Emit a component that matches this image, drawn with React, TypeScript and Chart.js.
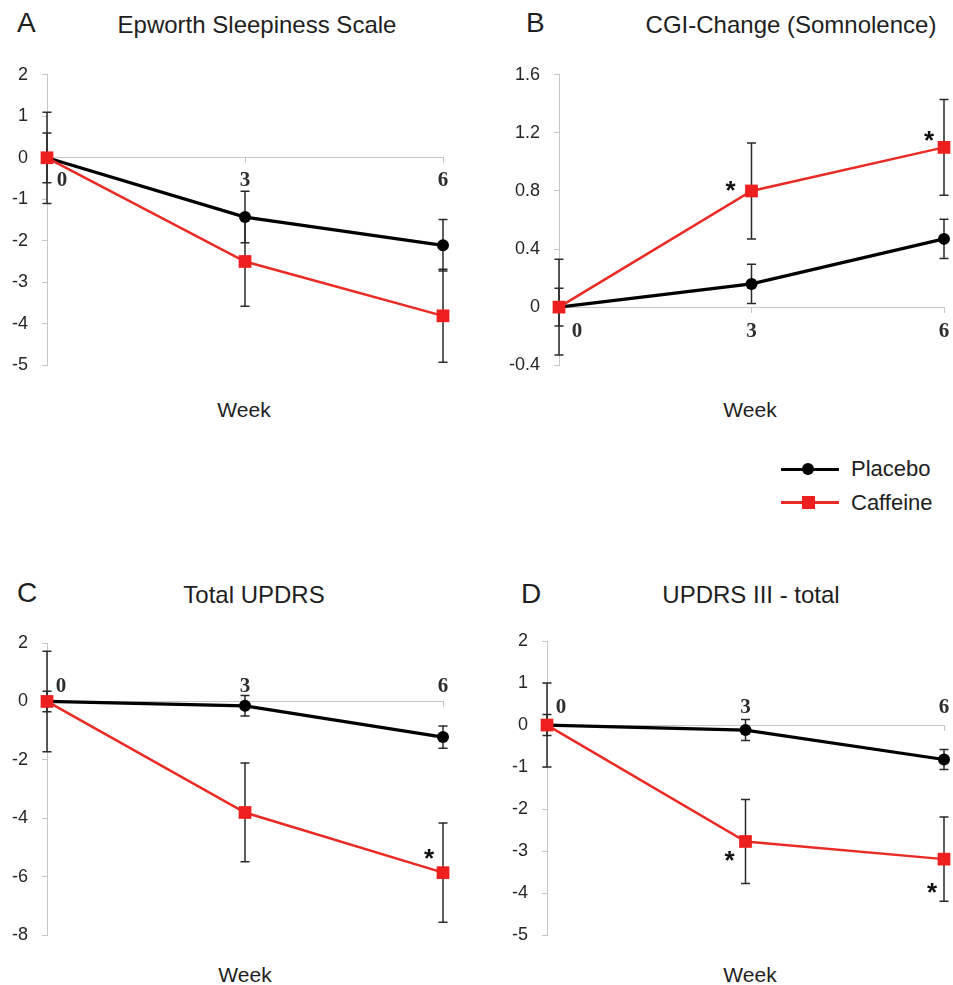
import React, { useEffect, useRef } from 'react';
import { Chart, registerables } from 'chart.js';

Chart.register(...registerables);

// ---------------- DATA ----------------
const weeks = [0, 3, 6];
const seriesNames = ['Placebo', 'Caffeine'];

// A – Epworth Sleepiness Scale
const epworthPlacebo = [0, -1.43, -2.11];
const epworthPlaceboSem = [0.6, 0.62, 0.62];
const epworthCaffeine = [0, -2.5, -3.81];
const epworthCaffeineSem = [1.1, 1.08, 1.12];
const epworthTicks = [2, 1, 0, -1, -2, -3, -4, -5];
const epworthStars: number[] = [];

// B – CGI-Change (Somnolence)
const cgiPlacebo = [0, 0.16, 0.47];
const cgiPlaceboSem = [0.13, 0.135, 0.135];
const cgiCaffeine = [0, 0.8, 1.1];
const cgiCaffeineSem = [0.33, 0.33, 0.33];
const cgiTicks = [1.6, 1.2, 0.8, 0.4, 0, -0.4];
const cgiStars = [1, 2];

// C – Total UPDRS
const updrsPlacebo = [0, -0.15, -1.22];
const updrsPlaceboSem = [0.35, 0.35, 0.38];
const updrsCaffeine = [0, -3.8, -5.86];
const updrsCaffeineSem = [1.72, 1.69, 1.7];
const updrsTicks = [2, 0, -2, -4, -6, -8];
const updrsStars = [2];

// D – UPDRS III - total
const updrs3Placebo = [0, -0.12, -0.82];
const updrs3PlaceboSem = [0.25, 0.25, 0.24];
const updrs3Caffeine = [0, -2.77, -3.19];
const updrs3CaffeineSem = [1.0, 1.0, 1.0];
const updrs3Ticks = [2, 1, 0, -1, -2, -3, -4, -5];
const updrs3Stars = [1, 2];

// ---------------- STYLE / LAYOUT ----------------
const SANS = '"Liberation Sans", Arial, Helvetica, sans-serif';
const SERIF = '"Liberation Serif", "Times New Roman", serif';
const AXIS = '#c6c6c6';
const TEXT = '#262626';
const RED = '#ea2a24';
const RED_FILL = '#ee1f1f';

type Panel = {
  letter: string;
  title: string;
  placebo: number[];
  placeboSem: number[];
  caffeine: number[];
  caffeineSem: number[];
  ticks: number[];
  stars: number[];
  box: { left: number; top: number; width: number; height: number };
  yWidth: number;
  pad: { top: number; right: number; bottom: number };
  weekDy: number;
  zeroDx: number;
  starOffsets: Record<number, [number, number]>;
  letterPos: [number, number];
  titleCenter: [number, number];
  weekCenter: [number, number];
};

const panels: Panel[] = [
  {
    letter: 'A', title: 'Epworth Sleepiness Scale',
    placebo: epworthPlacebo, placeboSem: epworthPlaceboSem,
    caffeine: epworthCaffeine, caffeineSem: epworthCaffeineSem,
    ticks: epworthTicks, stars: epworthStars,
    box: { left: 0, top: 50, width: 470, height: 340 }, yWidth: 47,
    pad: { top: 18, right: 27, bottom: 20 }, weekDy: 23, zeroDx: 15,
    starOffsets: {},
    letterPos: [17, 33], titleCenter: [257, 33], weekCenter: [244, 417],
  },
  {
    letter: 'B', title: 'CGI-Change (Somnolence)',
    placebo: cgiPlacebo, placeboSem: cgiPlaceboSem,
    caffeine: cgiCaffeine, caffeineSem: cgiCaffeineSem,
    ticks: cgiTicks, stars: cgiStars,
    box: { left: 476, top: 50, width: 477, height: 340 }, yWidth: 83,
    pad: { top: 18, right: 7, bottom: 22 }, weekDy: 24, zeroDx: 18,
    starOffsets: { 1: [-21, -7], 2: [-15, -13] },
    letterPos: [526, 33], titleCenter: [791, 33], weekCenter: [750, 417],
  },
  {
    letter: 'C', title: 'Total UPDRS',
    placebo: updrsPlacebo, placeboSem: updrsPlaceboSem,
    caffeine: updrsCaffeine, caffeineSem: updrsCaffeineSem,
    ticks: updrsTicks, stars: updrsStars,
    box: { left: 0, top: 610, width: 470, height: 350 }, yWidth: 47,
    pad: { top: 33, right: 27, bottom: 15 }, weekDy: -15, zeroDx: 14,
    starOffsets: { 2: [-14, -20] },
    letterPos: [17, 603], titleCenter: [254, 603], weekCenter: [245, 982],
  },
  {
    letter: 'D', title: 'UPDRS III - total',
    placebo: updrs3Placebo, placeboSem: updrs3PlaceboSem,
    caffeine: updrs3Caffeine, caffeineSem: updrs3CaffeineSem,
    ticks: updrs3Ticks, stars: updrs3Stars,
    box: { left: 476, top: 610, width: 477, height: 350 }, yWidth: 71,
    pad: { top: 31, right: 9, bottom: 17 }, weekDy: -17, zeroDx: 14,
    starOffsets: { 1: [-16, 13], 2: [-12, 27] },
    letterPos: [521, 604], titleCenter: [751, 603], weekCenter: [750, 982],
  },
];

// ---------------- PLUGINS ----------------
const errorBarPlugin = {
  id: 'errorBars',
  beforeDatasetsDraw(chart: any) {
    const { ctx } = chart;
    const yScale = chart.scales.y;
    chart.data.datasets.forEach((ds: any, di: number) => {
      const meta = chart.getDatasetMeta(di);
      const errs: number[] = ds.errors || [];
      ctx.save();
      ctx.strokeStyle = '#2a2a2a';
      ctx.lineWidth = 1.5;
      meta.data.forEach((el: any, i: number) => {
        const v = ds.data[i].y;
        const e = errs[i] || 0;
        const top = yScale.getPixelForValue(v + e);
        const bot = yScale.getPixelForValue(v - e);
        const x = el.x;
        const cap = 4.5;
        ctx.beginPath();
        ctx.moveTo(x, top); ctx.lineTo(x, bot);
        ctx.moveTo(x - cap, top); ctx.lineTo(x + cap, top);
        ctx.moveTo(x - cap, bot); ctx.lineTo(x + cap, bot);
        ctx.stroke();
      });
      ctx.restore();
    });
  },
};

const weekTickPlugin = {
  id: 'weekTicks',
  afterDraw(chart: any, _args: any, opts: any) {
    const { ctx } = chart;
    const xs = chart.scales.x;
    const ys = chart.scales.y;
    const base = ys.getPixelForValue(0);
    ctx.save();
    ctx.font = `bold 21px ${SERIF}`;
    ctx.fillStyle = '#2e2e2e';
    ctx.textAlign = 'center';
    ctx.textBaseline = 'middle';
    weeks.forEach((w) => {
      ctx.fillText(String(w), xs.getPixelForValue(w) + (w === 0 ? opts.zeroDx : 0), base + opts.dy);
    });
    ctx.restore();
  },
};

const starPlugin = {
  id: 'stars',
  afterDatasetsDraw(chart: any, _args: any, opts: any) {
    const { ctx } = chart;
    const meta = chart.getDatasetMeta(opts.datasetIndex);
    const F = 26;
    ctx.save();
    ctx.font = `bold ${F}px ${SANS}`;
    ctx.fillStyle = '#111';
    ctx.textAlign = 'center';
    ctx.textBaseline = 'alphabetic';
    (opts.indices as number[]).forEach((idx) => {
      const el = meta.data[idx];
      const off = opts.offsets[idx] || [0, -15];
      ctx.fillText('*', el.x + off[0], el.y + off[1] + 0.57 * F);
    });
    ctx.restore();
  },
};

// ---------------- COMPONENTS ----------------
function PanelChart({ p }: { p: Panel }) {
  const ref = useRef<HTMLCanvasElement>(null);
  useEffect(() => {
    const canvas = ref.current;
    if (!canvas) return;
    const yTicks = p.ticks.slice().sort((a, b) => a - b);
    const chart = new Chart(canvas, {
      type: 'line',
      data: {
        datasets: [
          {
            label: seriesNames[0],
            data: weeks.map((w, i) => ({ x: w, y: p.placebo[i] })),
            errors: p.placeboSem,
            borderColor: '#000',
            borderWidth: 3.2,
            pointStyle: 'circle',
            pointRadius: 6,
            pointBackgroundColor: '#000',
            pointBorderColor: '#000',
            pointBorderWidth: 0,
            tension: 0,
            clip: false,
            order: 1,
          } as any,
          {
            label: seriesNames[1],
            data: weeks.map((w, i) => ({ x: w, y: p.caffeine[i] })),
            errors: p.caffeineSem,
            borderColor: RED,
            borderWidth: 2.5,
            pointStyle: 'rect',
            pointRadius: 9,
            pointBackgroundColor: RED_FILL,
            pointBorderColor: RED_FILL,
            pointBorderWidth: 0,
            tension: 0,
            clip: false,
            order: 0,
          } as any,
        ],
      },
      options: {
        animation: false,
        responsive: false,
        maintainAspectRatio: false,
        devicePixelRatio: 1,
        events: [],
        layout: { padding: { left: 0, top: p.pad.top, right: p.pad.right, bottom: p.pad.bottom } },
        plugins: {
          legend: { display: false },
          tooltip: { enabled: false },
          title: { display: false },
          weekTicks: { dy: p.weekDy, zeroDx: p.zeroDx },
          stars: { datasetIndex: 1, indices: p.stars, offsets: p.starOffsets },
        } as any,
        scales: {
          x: {
            type: 'linear',
            min: weeks[0],
            max: weeks[weeks.length - 1],
            position: { y: 0 } as any,
            afterBuildTicks: (s: any) => { s.ticks = weeks.map((v) => ({ value: v })); },
            ticks: { display: false },
            grid: { display: true, drawOnChartArea: false, drawTicks: true, tickLength: 5, color: AXIS, lineWidth: 1 },
            border: { display: true, color: AXIS, width: 1 },
          },
          y: {
            type: 'linear',
            position: 'left',
            min: yTicks[0],
            max: yTicks[yTicks.length - 1],
            afterBuildTicks: (s: any) => { s.ticks = yTicks.map((v) => ({ value: v })); },
            afterFit: (s: any) => { s.width = p.yWidth; },
            ticks: {
              callback: (v: any) => String(v),
              font: { family: SANS, size: 18 },
              color: TEXT,
              padding: 14,
            },
            grid: { display: true, drawOnChartArea: false, drawTicks: true, tickLength: 5, color: AXIS, lineWidth: 1 },
            border: { display: true, color: AXIS, width: 1 },
          },
        } as any,
      },
      plugins: [errorBarPlugin, weekTickPlugin, starPlugin],
    } as any);
    return () => chart.destroy();
  }, [p]);
  return (
    <canvas
      ref={ref}
      width={p.box.width}
      height={p.box.height}
      style={{ position: 'absolute', left: p.box.left, top: p.box.top, width: p.box.width, height: p.box.height }}
    />
  );
}

// text placed by baseline
function Txt({ x, baseline, size, children, center, color = '#1e1e1e' }: any) {
  const top = baseline - 0.8465 * size;
  const style: React.CSSProperties = {
    position: 'absolute',
    top,
    fontFamily: SANS,
    fontSize: size,
    lineHeight: `${size}px`,
    color,
    whiteSpace: 'nowrap',
  };
  if (center) {
    style.left = x - 300;
    style.width = 600;
    style.textAlign = 'center';
  } else {
    style.left = x;
  }
  return <div style={style}>{children}</div>;
}

export default function App() {
  return (
    <div style={{ position: 'absolute', left: 0, top: 0, width: 953, height: 985, overflow: 'hidden', background: '#fff' }}>
      {panels.map((p) => (
        <React.Fragment key={p.letter}>
          <PanelChart p={p} />
          <Txt x={p.letterPos[0]} baseline={p.letterPos[1]} size={28}>{p.letter}</Txt>
          <Txt x={p.titleCenter[0]} baseline={p.titleCenter[1]} size={24} center>{p.title}</Txt>
          <Txt x={p.weekCenter[0]} baseline={p.weekCenter[1]} size={21} center>Week</Txt>
        </React.Fragment>
      ))}
      {/* Legend */}
      <div style={{ position: 'absolute', left: 781, top: 467.5, width: 58, height: 3, background: '#000' }} />
      <div style={{ position: 'absolute', left: 802, top: 463, width: 12, height: 12, borderRadius: 6, background: '#000' }} />
      <Txt x={851} baseline={477} size={22}>{seriesNames[0]}</Txt>
      <div style={{ position: 'absolute', left: 781, top: 501, width: 58, height: 2.5, background: RED }} />
      <div style={{ position: 'absolute', left: 801.5, top: 495.5, width: 13, height: 13, background: RED_FILL }} />
      <Txt x={851} baseline={511} size={22}>{seriesNames[1]}</Txt>
    </div>
  );
}
